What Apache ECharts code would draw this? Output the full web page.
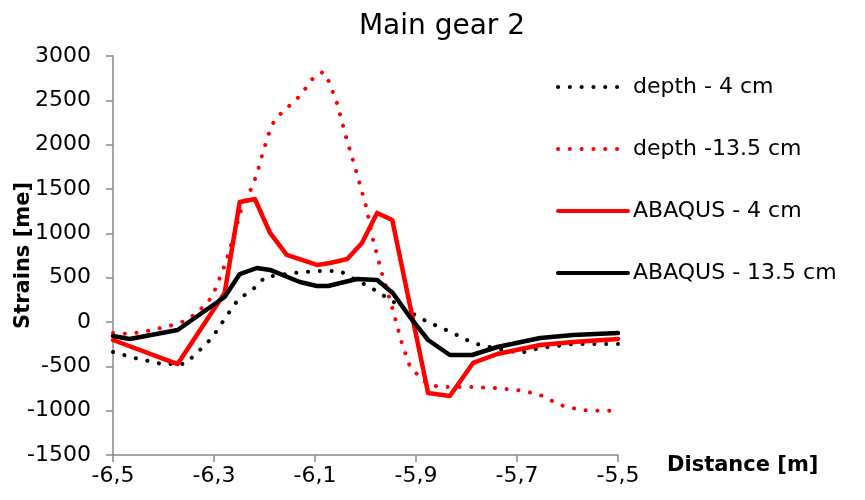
<!DOCTYPE html>
<html>
<head>
<meta charset="utf-8">
<script src="https://cdn.jsdelivr.net/npm/echarts@6/dist/echarts.min.js"></script>
<style>
  html, body { margin: 0; padding: 0; background: #fff; }
  #chart { width: 865px; height: 500px; }
</style>
</head>
<body>
<div id="chart"></div>
<script>
// x tick labels (distance, m)
const xTicks = [-6.5, -6.3, -6.1, -5.9, -5.7, -5.5];

// depth - 4 cm (measured, dotted black)
const depth4X = [-6.50, -6.457, -6.403, -6.358, -6.338, -6.304, -6.279, -6.253, -6.215, -6.199, -6.140, -6.096, -6.050, -6.031, -5.991, -5.951, -5.892, -5.872, -5.827, -5.787, -5.763, -5.694, -5.654, -5.589, -5.50];
const depth4Y = [-338, -406, -474, -474, -372, -180, 34, 248, 406, 508, 553, 575, 575, 508, 395, 248, 45, -11, -124, -237, -271, -350, -293, -248, -248];

// depth -13.5 cm (measured, dotted red)
const depth135X = [-6.50, -6.467, -6.421, -6.374, -6.354, -6.334, -6.318, -6.304, -6.294, -6.277, -6.259, -6.245, -6.233, -6.215, -6.203, -6.189, -6.179, -6.164, -6.130, -6.102, -6.084, -6.072, -6.056, -6.038, -6.018, -5.999, -5.985, -5.967, -5.947, -5.928, -5.914, -5.900, -5.882, -5.862, -5.838, -5.793, -5.747, -5.700, -5.678, -5.654, -5.634, -5.615, -5.591, -5.569, -5.521, -5.50];
const depth135Y = [-124, -135, -90, -23, 23, 102, 192, 282, 417, 666, 1004, 1297, 1410, 1669, 1918, 2166, 2290, 2369, 2549, 2764, 2820, 2707, 2459, 2076, 1692, 1308, 925, 541, 158, -237, -474, -575, -677, -722, -733, -733, -744, -767, -790, -823, -880, -936, -970, -993, -1004, -993];

// ABAQUS - 4 cm (model, solid red)
const abaqus4X = [-6.50, -6.372, -6.279, -6.249, -6.219, -6.189, -6.156, -6.096, -6.070, -6.036, -6.007, -5.977, -5.947, -5.876, -5.833, -5.787, -5.739, -5.654, -5.589, -5.50];
const abaqus4Y = [-203, -474, 327, 1354, 1387, 1004, 756, 643, 666, 711, 891, 1230, 1151, -801, -835, -462, -361, -259, -226, -192];

// ABAQUS - 13.5 cm (model, solid black)
const abaqus135X = [-6.50, -6.467, -6.372, -6.279, -6.249, -6.215, -6.189, -6.130, -6.096, -6.074, -6.017, -5.977, -5.946, -5.912, -5.876, -5.833, -5.789, -5.739, -5.654, -5.589, -5.50];
const abaqus135Y = [-158, -192, -90, 282, 541, 609, 587, 451, 406, 406, 485, 474, 327, 56, -203, -372, -372, -282, -180, -147, -124];

const zip = (xs, ys) => xs.map((x, i) => [x, ys[i]]);

const font = 'DejaVu Sans';
const axisGray = '#898989';
const dots = [0.1, 11.7];

const chart = echarts.init(document.getElementById('chart'), null, { renderer: 'canvas' });

const option = {
  animation: false,
  backgroundColor: '#fff',
  textStyle: { fontFamily: font, color: '#000' },
  title: {
    text: 'Main gear 2',
    left: 437,
    textAlign: 'center',
    top: 8,
    textStyle: { fontFamily: font, fontSize: 28, fontWeight: 'normal', color: '#000' }
  },
  legend: {
    orient: 'vertical',
    left: 551,
    top: 71,
    itemWidth: 70,
    itemHeight: 14,
    itemGap: 40,
    textStyle: { fontFamily: font, fontSize: 22, color: '#000' },
    lineStyle: { width: 4 },
    itemStyle: { opacity: 0 },
    data: ['depth - 4 cm', 'depth -13.5 cm', 'ABAQUS - 4 cm', 'ABAQUS - 13.5 cm']
  },
  grid: { left: 113, right: 247, top: 56, bottom: 45, outerBoundsMode: 'none' },
  xAxis: {
    type: 'value',
    min: -6.5,
    max: -5.5,
    name: 'Distance [m]',
    nameLocation: 'end',
    nameGap: 49,
    nameMoveOverlap: false,
    nameTextStyle: { fontFamily: font, fontSize: 21, fontWeight: 'bold', color: '#000', verticalAlign: 'top', padding: [0, 0, 0, 0] },
    axisLine: { onZero: false, lineStyle: { color: axisGray, width: 1.5 } },
    axisTick: { show: true, length: 7, lineStyle: { color: axisGray, width: 1.5 }, customValues: xTicks },
    axisLabel: {
      customValues: xTicks,
      margin: 10,
      fontFamily: font,
      fontSize: 22,
      color: '#000',
      formatter: v => v.toFixed(1).replace('.', ',')
    },
    splitLine: { show: false }
  },
  yAxis: {
    type: 'value',
    min: -1500,
    max: 3000,
    interval: 500,
    name: 'Strains [me]',
    nameLocation: 'middle',
    nameGap: 79,
    nameMoveOverlap: false,
    nameTextStyle: { fontFamily: font, fontSize: 21, fontWeight: 'bold', color: '#000' },
    axisLine: { show: true, lineStyle: { color: axisGray, width: 1.5 } },
    axisTick: { show: true, length: 7, lineStyle: { color: axisGray, width: 1.5 } },
    axisLabel: { margin: 22, fontFamily: font, fontSize: 22, color: '#000', formatter: v => String(v) },
    splitLine: { show: false }
  },
  series: [
    {
      name: 'depth - 4 cm',
      type: 'line',
      data: zip(depth4X, depth4Y),
      symbol: 'none',
      color: '#000',
      lineStyle: { color: '#000', width: 4, type: dots, cap: 'round' }
    },
    {
      name: 'depth -13.5 cm',
      type: 'line',
      data: zip(depth135X, depth135Y),
      symbol: 'none',
      color: '#ff0000',
      lineStyle: { color: '#ff0000', width: 4, type: dots, cap: 'round' }
    },
    {
      name: 'ABAQUS - 4 cm',
      type: 'line',
      data: zip(abaqus4X, abaqus4Y),
      symbol: 'none',
      color: '#ff0000',
      lineStyle: { color: '#ff0000', width: 4.5, cap: 'round', join: 'round' }
    },
    {
      name: 'ABAQUS - 13.5 cm',
      type: 'line',
      data: zip(abaqus135X, abaqus135Y),
      symbol: 'none',
      color: '#000',
      lineStyle: { color: '#000', width: 4.5, cap: 'round', join: 'round' }
    }
  ]
};

chart.setOption(option);
</script>
</body>
</html>
